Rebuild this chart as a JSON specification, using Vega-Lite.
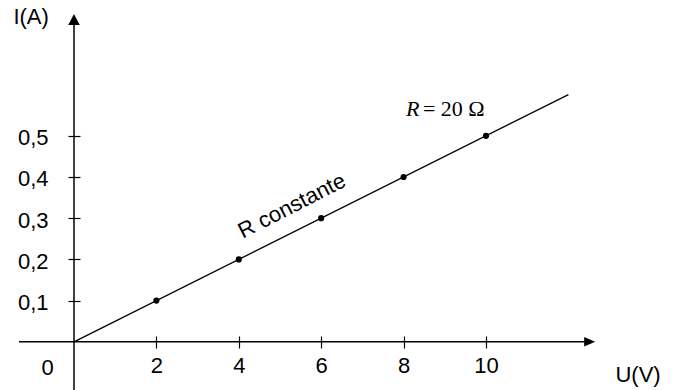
{
  "$schema": "https://vega.github.io/schema/vega-lite/v6.json",
  "width": 674,
  "height": 390,
  "padding": 0,
  "autosize": "none",
  "background": "white",
  "config": {
    "view": {"stroke": null},
    "text": {"font": "Liberation Sans", "fontSize": 22, "color": "black"}
  },
  "encoding": {
    "x": {
      "field": "u",
      "type": "quantitative",
      "scale": {"domain": [-1.796, 14.563], "nice": false, "zero": false},
      "axis": {
        "values": [2, 4, 6, 8, 10],
        "domain": false,
        "grid": false,
        "offset": -54,
        "tickSize": 12,
        "tickColor": "black",
        "tickWidth": 1.2,
        "labelFont": "Liberation Sans",
        "labelFontSize": 22,
        "labelColor": "black",
        "labelPadding": 7,
        "title": null
      }
    },
    "y": {
      "field": "i",
      "type": "quantitative",
      "scale": {"domain": [-0.117, 0.8296], "nice": false, "zero": false},
      "axis": {
        "values": [0.1, 0.2, 0.3, 0.4, 0.5],
        "labelExpr": "replace(format(datum.value, '.1f'), '.', ',')",
        "domain": false,
        "grid": false,
        "offset": -80,
        "tickSize": 12,
        "tickColor": "black",
        "tickWidth": 1.2,
        "labelFont": "Liberation Sans",
        "labelFontSize": 22,
        "labelColor": "black",
        "labelPadding": 20,
        "labelOffset": 2,
        "title": null
      }
    }
  },
  "layer": [
    {
      "data": {"values": [
        {"u": -1.335, "u2": 12.4, "i": 0, "i2": 0},
        {"u": 0, "u2": 0, "i": -0.117, "i2": 0.77}
      ]},
      "mark": {"type": "rule", "color": "black", "strokeWidth": 1.5},
      "encoding": {"x2": {"field": "u2"}, "y2": {"field": "i2"}}
    },
    {
      "data": {"values": [
        {"u": 12.65, "i": 0, "dir": "right"},
        {"u": 0, "i": 0.7956, "dir": "up"}
      ]},
      "mark": {"type": "point", "filled": true, "color": "black", "opacity": 1, "size": 121},
      "encoding": {
        "shape": {
          "field": "dir",
          "type": "nominal",
          "scale": {"domain": ["right", "up"], "range": ["M0,0L-2,-0.85L-2,0.85Z", "M0,0L-1.05,2L1.05,2Z"]},
          "legend": null
        }
      }
    },
    {
      "data": {"values": [
        {"u": 0, "i": 0},
        {"u": 12, "i": 0.6}
      ]},
      "mark": {"type": "line", "color": "black", "strokeWidth": 1.3}
    },
    {
      "data": {"values": [
        {"u": 2, "i": 0.1},
        {"u": 4, "i": 0.2},
        {"u": 6, "i": 0.3},
        {"u": 8, "i": 0.4},
        {"u": 10, "i": 0.5}
      ]},
      "mark": {"type": "point", "filled": true, "color": "black", "opacity": 1, "size": 38}
    },
    {
      "data": {"values": [
        {"u": -1.04, "i": 0.772, "label": "I(A)"},
        {"u": 13.69, "i": -0.097, "label": "U(V)"},
        {"u": -0.643, "i": -0.081, "label": "0"}
      ]},
      "mark": {"type": "text", "align": "center", "baseline": "alphabetic"},
      "encoding": {"text": {"field": "label"}}
    },
    {
      "data": {"values": [
        {"u": 5.29, "i": 0.33, "label": "R constante"}
      ]},
      "mark": {"type": "text", "align": "center", "baseline": "middle", "angle": -27, "fontSize": 22},
      "encoding": {"text": {"field": "label"}}
    },
    {
      "data": {"values": [
        {"u": 8.06, "i": 0.549, "label": "R"}
      ]},
      "mark": {"type": "text", "font": "Liberation Serif", "fontStyle": "italic", "fontSize": 22, "align": "left", "baseline": "alphabetic"},
      "encoding": {"text": {"field": "label"}}
    },
    {
      "data": {"values": [
        {"u": 8.47, "i": 0.549, "label": "= 20 Ω"}
      ]},
      "mark": {"type": "text", "font": "Liberation Serif", "fontSize": 22, "align": "left", "baseline": "alphabetic"},
      "encoding": {"text": {"field": "label"}}
    }
  ]
}
